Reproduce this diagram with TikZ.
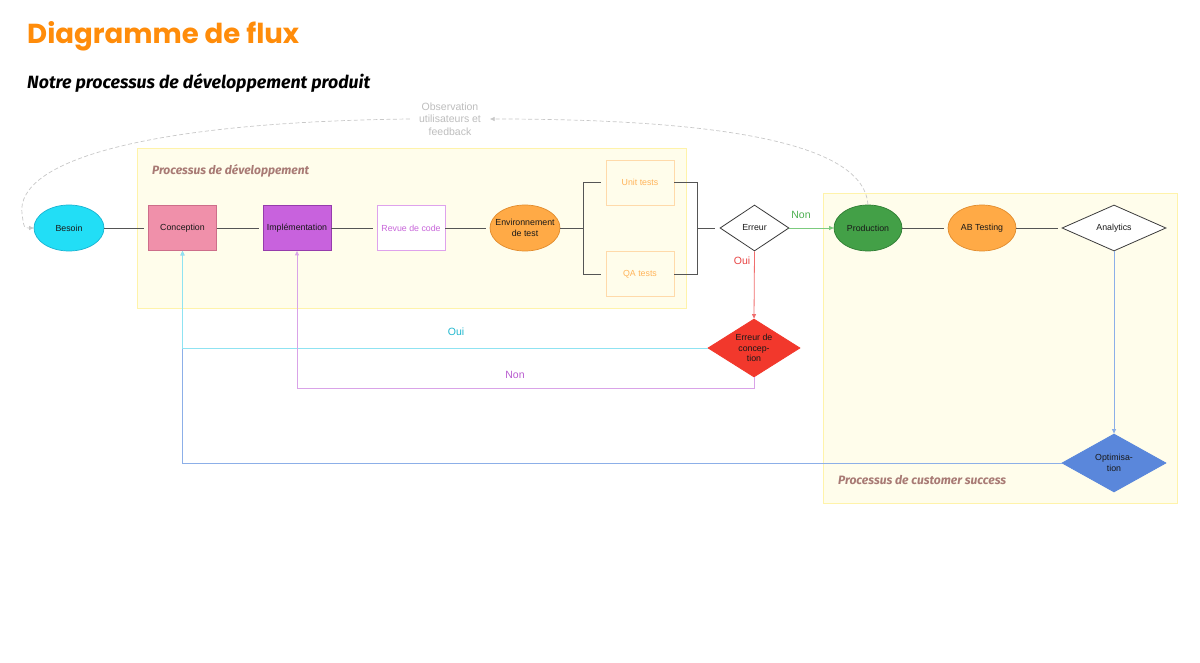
\documentclass[tikz,border=0pt]{standalone}
\usepackage{fontspec}
\usepackage{graphicx}
\setmainfont{Liberation Sans}
\newfontfamily\titlefont{Poppins}
\newfontfamily\handfont{Fira Sans}
\usetikzlibrary{shapes.geometric,arrows.meta}
\definecolor{cTitle}{RGB}{255,140,10}
\definecolor{cContFill}{RGB}{255,253,235}
\definecolor{cContLine}{RGB}{255,243,170}
\definecolor{cContText}{RGB}{168,122,116}
\definecolor{cLine}{RGB}{85,85,85}
\definecolor{cDash}{RGB}{200,200,200}
\definecolor{cObs}{RGB}{190,190,190}
\definecolor{cBes}{RGB}{34,222,246}
\definecolor{cBesD}{RGB}{25,180,210}
\definecolor{cCon}{RGB}{240,144,170}
\definecolor{cConD}{RGB}{205,110,138}
\definecolor{cImp}{RGB}{200,98,221}
\definecolor{cImpD}{RGB}{150,60,172}
\definecolor{cRevD}{RGB}{222,162,236}
\definecolor{cRevT}{RGB}{200,102,218}
\definecolor{cOra}{RGB}{255,170,70}
\definecolor{cOraD}{RGB}{225,140,45}
\definecolor{cTestD}{RGB}{255,218,170}
\definecolor{cTestT}{RGB}{255,180,90}
\definecolor{cDia}{RGB}{60,60,60}
\definecolor{cProd}{RGB}{67,160,71}
\definecolor{cProdD}{RGB}{46,125,50}
\definecolor{cRed}{RGB}{242,56,44}
\definecolor{cRedL}{RGB}{240,110,110}
\definecolor{cRedT}{RGB}{232,70,70}
\definecolor{cGreenL}{RGB}{124,203,126}
\definecolor{cGreenT}{RGB}{76,175,80}
\definecolor{cOpt}{RGB}{90,135,219}
\definecolor{cBlueL}{RGB}{140,175,232}
\definecolor{cCyanL}{RGB}{143,227,242}
\definecolor{cCyanT}{RGB}{34,184,207}
\definecolor{cPurL}{RGB}{217,163,232}
\definecolor{cPurT}{RGB}{185,92,208}
\begin{document}
\begin{tikzpicture}[x=1pt,y=-1pt,
  nfont/.style={font=\fontsize{8.8}{10.5}\selectfont},
  ell/.style={ellipse,minimum width=70pt,minimum height=46pt,inner sep=0pt,line width=0.7pt,nfont,text=black!90},
  box/.style={rectangle,minimum width=68pt,minimum height=45pt,inner sep=0pt,line width=0.8pt,nfont,text=black!90},
  dia/.style={diamond,aspect=2,inner sep=0pt,line width=0.8pt,nfont,text=black!90},
  txt/.style={inner sep=0pt,align=center,nfont,text=black!90},
  cont/.style={rectangle,fill=cContFill,draw=cContLine,line width=0.8pt,anchor=north west,inner sep=0pt},
  conn/.style={draw=cLine,line width=0.8pt,shorten >=4pt},
  arr/.style={line width=0.8pt,-{Triangle[length=4.5pt,width=4pt]}},
  dsh/.style={draw=cDash,line width=0.7pt,dash pattern=on 4pt off 2.5pt,-{Triangle[length=4.5pt,width=4pt]}},
  elab/.style={inner sep=0pt,font=\fontsize{10.5}{12.5}\selectfont},
  contlab/.style={inner sep=0pt,anchor=base west,text=cContText}
]
\useasboundingbox[fill=white] (0,0) rectangle (1200,663);

% titles
\node[inner sep=0pt,anchor=base west,text=cTitle] (title) at (27,44)
  {\resizebox{272pt}{22pt}{\titlefont\bfseries Diagramme de flux}};
\node[inner sep=0pt,anchor=base west,text=black] (subtitle) at (27,89)
  {\resizebox{343pt}{!}{\handfont\bfseries\itshape Notre processus de développement produit}};

% containers
\node[cont,minimum width=549pt,minimum height=160pt] (devzone) at (137,148) {};
\node[cont,minimum width=354pt,minimum height=310pt] (cszone) at (823,193) {};
\node[contlab] (devlab) at (152,175)
  {\resizebox{157pt}{!}{\handfont\bfseries\itshape Processus de développement}};
\node[contlab] (cslab) at (838,484)
  {\resizebox{168pt}{!}{\handfont\bfseries\itshape Processus de customer success}};

% main row
\node[ell,fill=cBes,draw=cBesD] (besoin) at (69,228) {Besoin};
\node[box,fill=cCon,draw=cConD] (concep) at (182.5,228) {Conception};
\node[box,fill=cImp,draw=cImpD] (impl) at (297,228) {Implémentation};
\node[box,fill=white,draw=cRevD,text=cRevT] (revue) at (411,228) {Revue de code};
\node[ell,fill=cOra,draw=cOraD] (env) at (525,228) {};
\node[txt] (envtxt) at (env.center) {Environnement\\de test};
\node[box,fill=cContFill,draw=cTestD,text=cTestT] (unit) at (640,182.5) {Unit tests};
\node[box,fill=cContFill,draw=cTestD,text=cTestT] (qa) at (640,274) {QA tests};
\node[dia,fill=white,draw=cDia,minimum width=69pt,minimum height=46pt] (err) at (754.5,228) {Erreur};
\node[ell,fill=cProd,draw=cProdD,minimum width=68pt] (prod) at (868,228) {Production};
\node[ell,fill=cOra,draw=cOraD,minimum width=68pt] (ab) at (982,228) {AB Testing};
\node[dia,fill=white,draw=cDia,minimum width=104pt,minimum height=46pt] (ana) at (1114,228) {Analytics};
\node[dia,fill=cRed,draw=cRed,minimum width=92pt,minimum height=58pt] (edc) at (754,348) {};
\node[txt] (edctxt) at (edc.center) {Erreur de\\concep-\\tion};
\node[dia,fill=cOpt,draw=cOpt,minimum width=104pt,minimum height=58pt,align=center] (opt) at (1114,463) {Optimisa-\\tion};

% observation label
\node[elab,text=cObs,align=center,inner xsep=9pt] (obs) at (450,119) {Observation\\utilisateurs et\\feedback};

% plain connectors
\draw[conn] (besoin.east) -- (concep.west);
\draw[conn] (concep.east) -- (impl.west);
\draw[conn] (impl.east) -- (revue.west);
\draw[conn] (revue.east) -- (env.west);
\coordinate (f1) at (583,228);
\coordinate (f2) at (697,228);
\draw[conn,shorten >=0pt] (env.east) -- (f1);
\draw[conn,shorten >=5pt] (f1) |- (unit.west);
\draw[conn,shorten >=5pt] (f1) |- (qa.west);
\draw[conn,shorten >=0pt] (unit.east) -| (f2);
\draw[conn,shorten >=0pt] (qa.east) -| (f2);
\draw[conn,shorten >=5pt] (f2) -- (err.west);
\draw[conn] (prod.east) -- (ab.west);
\draw[conn] (ab.east) -- (ana.west);

% decision arrows
\draw[arr,draw=cGreenL] (err.east) -- (prod.west);
\node[elab,text=cGreenT] (nonlab) at (801,215) {Non};
\draw[arr,draw=cRedL] (err.south) -- (edc.north);
\node[elab,text=cRedT] (ouilab) at (742,261) {Oui};
\draw[arr,draw=cBlueL] (ana.south) -- (opt.north);
\draw[arr,draw=cBlueL] (opt.west) -| (concep.south);
\draw[arr,draw=cCyanL] (edc.west) -| (concep.south);
\node[elab,text=cCyanT] (ouicyan) at (456,332) {Oui};
\draw[arr,draw=cPurL] (edc.south) -- ++(0,11) -| (impl.south);
\node[elab,text=cPurT] (nonpur) at (515,375) {Non};

% feedback loop
\draw[dsh] (prod.north) .. controls (864,145) and (730,119) .. (obs.east);
\coordinate (hook) at (22,214);
\draw[dsh] (obs.west) .. controls (150,122) and (15,160) .. (hook) .. controls (24,228) .. (besoin.west);
\end{tikzpicture}
\end{document}
